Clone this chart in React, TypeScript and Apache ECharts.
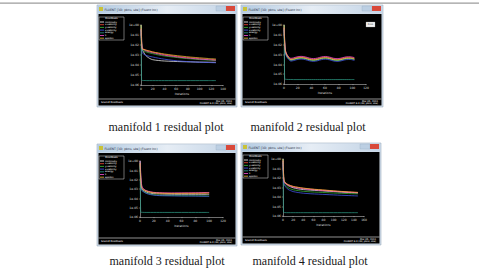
import React, { useEffect, useRef } from "react";
import * as echarts from "echarts";

// ---------- DATA (log10 of scaled residuals) ----------
const SERIES_NAMES = ["continuity", "x-velocity", "y-velocity", "z-velocity", "energy", "k", "epsilon"];
const SERIES_COLORS = ["#ffffff", "#ff4a3a", "#3cc43c", "#4a5cff", "#2fa08a", "#ff52e0", "#f2c23a"];
const Y_TICKS = [-6, -5, -4, -3, -2, -1, 0];

const P1_ITER = [0, 1, 2, 4, 7, 10, 15, 20, 30, 40, 55, 70, 85, 100, 115, 128];
const P1_CONT = [0, -1.3, -2.4, -2.66, -2.96, -3.15, -3.35, -3.47, -3.55, -3.6, -3.64, -3.67, -3.69, -3.71, -3.72, -3.73];
const P1_XVEL = [-0.3, -1.8, -2.36, -2.4, -2.47, -2.53, -2.6, -2.69, -2.83, -2.96, -3.08, -3.2, -3.28, -3.37, -3.43, -3.47];
const P1_YVEL = [-0.45, -1.85, -2.52, -2.58, -2.66, -2.72, -2.8, -2.87, -3.0, -3.1, -3.21, -3.31, -3.39, -3.46, -3.51, -3.55];
const P1_ZVEL = [-0.5, -2.0, -2.79, -2.88, -3.0, -3.07, -3.14, -3.2, -3.32, -3.42, -3.54, -3.62, -3.68, -3.72, -3.75, -3.78];
const P1_ENERGY = [0, -5.52, -5.54, -5.55, -5.55, -5.56, -5.56, -5.56, -5.56, -5.56, -5.56, -5.56, -5.56, -5.56, -5.56, -5.56];
const P1_K = [-0.4, -1.7, -2.3, -2.44, -2.55, -2.62, -2.7, -2.77, -2.9, -3.02, -3.14, -3.25, -3.33, -3.41, -3.47, -3.52];
const P1_EPS = [0, -1.9, -2.42, -2.44, -2.49, -2.55, -2.62, -2.7, -2.8, -2.9, -3.02, -3.12, -3.21, -3.28, -3.35, -3.4];

const P2_ITER = [0, 1, 2, 4, 7, 10, 14, 19, 25, 31, 37, 43, 49, 55, 61, 67, 73, 79, 85, 91, 97, 103];
const P2_CONT = [0, -1.5, -2.7, -3.1, -3.4, -3.55, -3.5, -3.4, -3.35, -3.4, -3.52, -3.58, -3.52, -3.4, -3.36, -3.43, -3.55, -3.58, -3.5, -3.4, -3.39, -3.48];
const P2_XVEL = [-0.2, -1.9, -2.6, -3.0, -3.3, -3.45, -3.4, -3.3, -3.25, -3.3, -3.42, -3.48, -3.42, -3.3, -3.26, -3.33, -3.45, -3.48, -3.4, -3.3, -3.29, -3.38];
const P2_YVEL = [-0.4, -2.0, -2.75, -3.15, -3.44, -3.59, -3.54, -3.44, -3.39, -3.44, -3.56, -3.62, -3.56, -3.44, -3.4, -3.47, -3.59, -3.62, -3.54, -3.44, -3.43, -3.52];
const P2_ZVEL = [-0.5, -2.1, -2.85, -3.25, -3.52, -3.67, -3.62, -3.52, -3.47, -3.52, -3.64, -3.7, -3.64, -3.52, -3.48, -3.55, -3.67, -3.7, -3.62, -3.52, -3.51, -3.6];
const P2_ENERGY = [0, -5.5, -5.52, -5.53, -5.54, -5.54, -5.55, -5.55, -5.55, -5.55, -5.55, -5.55, -5.55, -5.55, -5.55, -5.55, -5.55, -5.55, -5.55, -5.55, -5.55, -5.55];
const P2_K = [-0.3, -1.8, -2.55, -2.95, -3.24, -3.39, -3.34, -3.24, -3.19, -3.24, -3.36, -3.42, -3.36, -3.24, -3.2, -3.27, -3.39, -3.42, -3.34, -3.24, -3.23, -3.32];
const P2_EPS = [0, -2.0, -2.65, -3.05, -3.36, -3.51, -3.46, -3.36, -3.31, -3.36, -3.48, -3.54, -3.48, -3.36, -3.32, -3.39, -3.51, -3.54, -3.46, -3.36, -3.35, -3.44];

const P3_ITER = [0, 1, 2, 4, 7, 10, 15, 20, 28, 36, 45, 55, 65, 75, 85, 94, 100];
const P3_CONT = [0, -1.6, -2.9, -3.1, -3.25, -3.35, -3.45, -3.5, -3.53, -3.55, -3.56, -3.57, -3.57, -3.57, -3.57, -3.57, -3.57];
const P3_XVEL = [-0.3, -1.9, -2.76, -2.95, -3.12, -3.22, -3.32, -3.38, -3.42, -3.44, -3.45, -3.45, -3.44, -3.44, -3.43, -3.42, -3.41];
const P3_YVEL = [-0.4, -2.0, -3.04, -3.2, -3.35, -3.45, -3.55, -3.62, -3.67, -3.69, -3.7, -3.71, -3.72, -3.72, -3.73, -3.74, -3.75];
const P3_ZVEL = [-0.5, -2.1, -3.1, -3.25, -3.4, -3.5, -3.6, -3.66, -3.71, -3.73, -3.74, -3.75, -3.76, -3.76, -3.77, -3.78, -3.79];
const P3_ENERGY = [0, -5.48, -5.5, -5.5, -5.51, -5.51, -5.51, -5.51, -5.51, -5.51, -5.51, -5.51, -5.51, -5.51, -5.51, -5.51, -5.51];
const P3_K = [0, -1.2, -2.4, -2.9, -3.1, -3.2, -3.3, -3.36, -3.4, -3.42, -3.43, -3.42, -3.42, -3.41, -3.4, -3.38, -3.37];
const P3_EPS = [-0.2, -2.0, -2.8, -3.0, -3.15, -3.25, -3.35, -3.41, -3.45, -3.47, -3.48, -3.48, -3.47, -3.47, -3.46, -3.45, -3.44];

const P4_ITER = [0, 1, 2, 4, 7, 10, 15, 20, 30, 40, 55, 70, 85, 100, 115, 130, 148];
const P4_CONT = [0, -1.4, -2.3, -2.45, -2.65, -2.8, -2.93, -3.03, -3.15, -3.22, -3.28, -3.33, -3.38, -3.43, -3.48, -3.53, -3.58];
const P4_XVEL = [-0.1, -1.8, -2.4, -2.5, -2.6, -2.7, -2.8, -2.9, -3.0, -3.08, -3.17, -3.24, -3.3, -3.37, -3.43, -3.48, -3.53];
const P4_YVEL = [-0.3, -2.0, -2.55, -2.7, -2.88, -3.02, -3.15, -3.24, -3.33, -3.4, -3.46, -3.5, -3.54, -3.58, -3.61, -3.64, -3.67];
const P4_ZVEL = [-0.4, -2.1, -2.65, -2.85, -3.05, -3.2, -3.33, -3.43, -3.53, -3.6, -3.66, -3.7, -3.74, -3.78, -3.82, -3.85, -3.89];
const P4_ENERGY = [0, -5.6, -5.63, -5.64, -5.65, -5.65, -5.65, -5.65, -5.65, -5.65, -5.65, -5.65, -5.65, -5.65, -5.65, -5.65, -5.65];
const P4_K = [-0.2, -1.9, -2.45, -2.55, -2.66, -2.76, -2.86, -2.95, -3.05, -3.13, -3.21, -3.28, -3.34, -3.4, -3.46, -3.5, -3.55];
const P4_EPS = [0, -1.5, -2.2, -2.45, -2.6, -2.7, -2.8, -2.88, -2.98, -3.06, -3.15, -3.22, -3.28, -3.35, -3.41, -3.46, -3.51];

const CAPTIONS = ["manifold 1 residual plot", "manifold 2 residual plot", "manifold 3 residual plot", "manifold 4 residual plot"];
const X_MAX = [140, 120, 120, 160];

// ---------- LAYOUT ----------
const PANELS = [
  { win: [97, 5, 140, 102], grid: [141, 25, 82, 60], iter: P1_ITER, vals: [P1_CONT, P1_XVEL, P1_YVEL, P1_ZVEL, P1_ENERGY, P1_K, P1_EPS], cap: [166, 127] },
  { win: [241, 5, 142, 102], grid: [284, 25, 82, 59], iter: P2_ITER, vals: [P2_CONT, P2_XVEL, P2_YVEL, P2_ZVEL, P2_ENERGY, P2_K, P2_EPS], cap: [308, 127] },
  { win: [97, 144, 140, 102], grid: [140, 161, 83, 56], iter: P3_ITER, vals: [P3_CONT, P3_XVEL, P3_YVEL, P3_ZVEL, P3_ENERGY, P3_K, P3_EPS], cap: [167, 261] },
  { win: [241, 143, 140, 102], grid: [283, 159, 81, 57], iter: P4_ITER, vals: [P4_CONT, P4_XVEL, P4_YVEL, P4_ZVEL, P4_ENERGY, P4_K, P4_EPS], cap: [310, 261] },
];

const fmtExp = (v: number) => {
  const a = Math.abs(Math.round(v));
  return "1e" + (v >= 0 ? "+" : "-") + (a < 10 ? "0" + a : "" + a);
};

function chrome(x: number, y: number, w: number, h: number, extraBox: boolean): any[] {
  const els: any[] = [];
  els.push({ type: "rect", z: -30, shape: { x, y, width: w, height: h }, style: { fill: "#d3deea", stroke: "#8a9db2", lineWidth: 0.5 } });
  els.push({
    type: "rect", z: -29, shape: { x: x + 0.5, y: y + 0.5, width: w - 1, height: 8 },
    style: {
      fill: new echarts.graphic.LinearGradient(0, 0, 1, 0, [
        { offset: 0, color: "#b4cbe2" },
        { offset: 0.5, color: "#e6edf5" },
        { offset: 1, color: "#c3d4e6" },
      ]),
    },
  });
  els.push({ type: "rect", z: -28, shape: { x: x + 2, y: y + 2, width: 4, height: 4 }, style: { fill: "#c9c23a" } });
  els.push({ type: "text", z: -28, x: x + 7.5, y: y + 4.5, style: { text: "FLUENT [3D, pbns, ske] (Fluent Inc)", fontSize: 3, fill: "#1e2a3a", verticalAlign: "middle", fontFamily: "DejaVu Sans" } });
  els.push({ type: "rect", z: -28, shape: { x: x + w - 21, y: y + 1, width: 10, height: 5 }, style: { fill: "#bccfe3", stroke: "#8ea3b8", lineWidth: 0.3 } });
  els.push({ type: "rect", z: -28, shape: { x: x + w - 11, y: y + 1, width: 9, height: 5 }, style: { fill: "#d9493a" } });
  els.push({ type: "rect", z: -28, shape: { x: x + 1.5, y: y + 9, width: w - 3, height: h - 10.5 }, style: { fill: "#000" } });
  els.push({ type: "line", z: -27, shape: { x1: x + 1.5, y1: y + h - 8, x2: x + w - 1.5, y2: y + h - 8 }, style: { stroke: "#cfcfcf", lineWidth: 0.7 } });
  els.push({ type: "text", z: -27, x: x + 4, y: y + h - 4.5, style: { text: "Scaled Residuals", fontSize: 2.6, fill: "#fff", verticalAlign: "middle", fontFamily: "DejaVu Sans" } });
  els.push({ type: "text", z: -27, x: x + w - 5, y: y + h - 5.8, style: { text: "Mar 05, 2011", fontSize: 2.4, fill: "#fff", align: "right", verticalAlign: "middle", fontFamily: "DejaVu Sans" } });
  els.push({ type: "text", z: -27, x: x + w - 5, y: y + h - 3.3, style: { text: "FLUENT 6.3 (3d, pbns, ske)", fontSize: 2.4, fill: "#fff", align: "right", verticalAlign: "middle", fontFamily: "DejaVu Sans" } });
  // legend box
  const lx = x + 2, ly = y + 12;
  els.push({ type: "rect", z: -27, shape: { x: lx, y: ly, width: 25, height: 23 }, style: { fill: "none", stroke: "#d8d8d8", lineWidth: 0.5 } });
  els.push({ type: "text", z: -27, x: lx + 12.5, y: ly + 2, style: { text: "Residuals", fontSize: 2.6, fill: "#fff", align: "center", verticalAlign: "middle", fontFamily: "DejaVu Sans" } });
  SERIES_NAMES.forEach((n, i) => {
    const yy = ly + 5 + i * 2.7;
    els.push({ type: "line", z: -27, shape: { x1: lx + 1, y1: yy, x2: lx + 5, y2: yy }, style: { stroke: SERIES_COLORS[i], lineWidth: 0.8 } });
    els.push({ type: "text", z: -27, x: lx + 6, y: yy, style: { text: n, fontSize: 2.4, fill: "#fff", verticalAlign: "middle", fontFamily: "DejaVu Sans" } });
  });
  if (extraBox) {
    els.push({ type: "rect", z: -27, shape: { x: x + 125, y: y + 17, width: 9, height: 5 }, style: { fill: "#f2f2f2", stroke: "#999", lineWidth: 0.3 } });
    els.push({ type: "text", z: -26, x: x + 129.5, y: y + 19.5, style: { text: "Print", fontSize: 2.4, fill: "#111", align: "center", verticalAlign: "middle", fontFamily: "DejaVu Sans" } });
  }
  return els;
}

export default function App() {
  const ref = useRef<HTMLDivElement>(null);
  useEffect(() => {
    if (!ref.current) return;
    const chart = echarts.init(ref.current, undefined, { renderer: "svg" });
    const grids: any[] = [];
    const xAxes: any[] = [];
    const yAxes: any[] = [];
    const series: any[] = [];
    const graphics: any[] = [{ type: "rect", z: -40, shape: { x: 0, y: 2.5, width: 479, height: 1.2 }, style: { fill: "#9c9c9c" } }];
    PANELS.forEach((p, pi) => {
      const [wx, wy, ww, wh] = p.win;
      graphics.push(...chrome(wx, wy, ww, wh, pi === 1));
      graphics.push({ type: "text", x: p.cap[0], y: p.cap[1], style: { text: CAPTIONS[pi], fontSize: 12, fill: "#1a1a1a", align: "center", verticalAlign: "middle", fontFamily: "Liberation Serif" } });
      const [gl, gt, gw, gh] = p.grid;
      grids.push({ left: gl, top: gt, width: gw, height: gh, show: false });
      xAxes.push({
        type: "value", gridIndex: pi, min: 0, max: X_MAX[pi], interval: 20,
        name: "Iterations", nameLocation: "middle", nameGap: 7,
        nameTextStyle: { color: "#ddd", fontSize: 3, fontFamily: "DejaVu Sans" },
        axisLine: { show: true, onZero: false, lineStyle: { color: "#ddd", width: 0.5 } },
        axisTick: { show: true, length: 1.2, lineStyle: { color: "#ddd", width: 0.4 } },
        axisLabel: { color: "#ddd", fontSize: 3, margin: 2, fontFamily: "DejaVu Sans" },
        splitLine: { show: false },
      });
      yAxes.push({
        type: "value", gridIndex: pi, min: -6, max: 0, interval: 1,
        axisLine: { show: true, onZero: false, lineStyle: { color: "#ddd", width: 0.5 } },
        axisTick: { show: true, length: 1.2, lineStyle: { color: "#ddd", width: 0.4 } },
        axisLabel: { color: "#ddd", fontSize: 3, margin: 2, fontFamily: "DejaVu Sans", formatter: (v: number) => (Y_TICKS.includes(v) ? fmtExp(v) : "") },
        splitLine: { show: false },
      });
      p.vals.forEach((vals, si) => {
        series.push({
          type: "line", name: SERIES_NAMES[si], xAxisIndex: pi, yAxisIndex: pi,
          data: p.iter.map((it, i) => [it, vals[i]]),
          showSymbol: false, silent: true, smooth: 0.3,
          lineStyle: { color: SERIES_COLORS[si], width: 0.7 },
          z: 3,
        });
      });
    });
    chart.setOption({
      animation: false,
      backgroundColor: "#ffffff",
      grid: grids,
      xAxis: xAxes,
      yAxis: yAxes,
      series,
      graphic: { elements: graphics },
    });
    return () => chart.dispose();
  }, []);
  return <div ref={ref} style={{ position: "absolute", left: 0, top: 0, width: 479, height: 272 }} />;
}
